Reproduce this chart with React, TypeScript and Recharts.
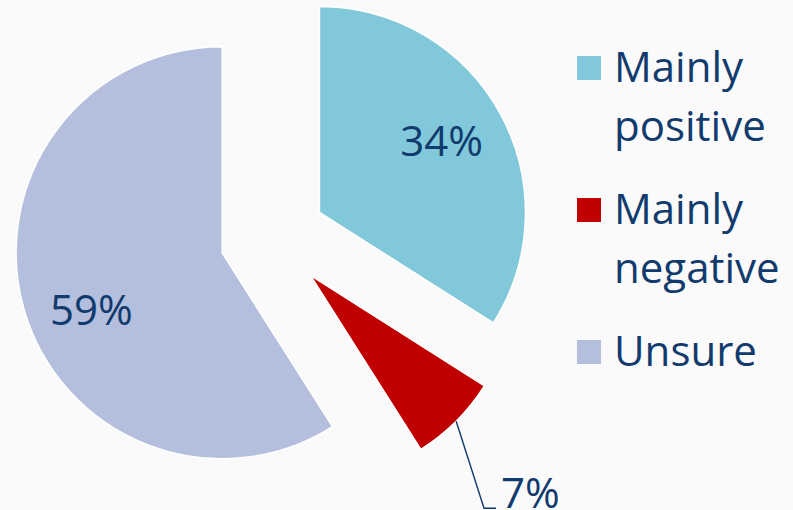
import React from 'react';
import { PieChart, Pie, Cell, Legend } from 'recharts';

// ---- data ----
const categories = ['Mainly positive', 'Mainly negative', 'Unsure'];
const shares = [34, 7, 59];
const colors = ['#80C8DA', '#C00000', '#B4BEDD'];

const data = categories.map((name, i) => ({ name, value: shares[i] }));

// ---- layout / style ----
const W = 793;
const H = 510;
const CX = 273;
const CY = 238;
const R = 206;
const EXPLODE = 53;
const START = 90;
const FONT = '"Open Sans", sans-serif';
const TEXT = '#123B6D';
const BG = '#FAFAFB';
const RAD = Math.PI / 180;
const LABEL_RADIUS = [0.69, 0, 0.69];
const LABEL_ANGLE_SHIFT = [2, 0, 7];

const total = shares.reduce((a, b) => a + b, 0);
const midAngles = shares.map((v, i) => {
  const before = shares.slice(0, i).reduce((a, b) => a + b, 0);
  return START - (360 * (before + v / 2)) / total;
});

const polar = (cx: number, cy: number, r: number, angle: number) => ({
  x: cx + Math.cos(-angle * RAD) * r,
  y: cy + Math.sin(-angle * RAD) * r,
});

const isSlice = (props: any, k: number) => {
  const name = props.name ?? (props.payload && props.payload.name);
  if (name !== undefined) return name === categories[k];
  return props.index === k;
};

const makeLabel = (k: number) => (props: any) => {
  if (!isSlice(props, k)) return null;
  const { cx, cy, midAngle, outerRadius, value } = props;
  if (k === 1) {
    const elbow = polar(cx, cy, outerRadius * 1.41, midAngle - 8.3);
    return (
      <text
        x={elbow.x + 17}
        y={elbow.y}
        fill={TEXT}
        fontFamily={FONT}
        fontSize={42}
        textAnchor="start"
      >
        {`${value}%`}
      </text>
    );
  }
  const p = polar(cx, cy, outerRadius * LABEL_RADIUS[k], midAngle + LABEL_ANGLE_SHIFT[k]);
  return (
    <text
      x={p.x}
      y={p.y}
      fill={TEXT}
      fontFamily={FONT}
      fontSize={42}
      textAnchor="middle"
      dominantBaseline="central"
    >
      {`${value}%`}
    </text>
  );
};

const makeLine = (k: number) => (props: any) => {
  if (!isSlice(props, k)) return null;
  const { cx, cy, midAngle, outerRadius } = props;
  const s = polar(cx, cy, outerRadius, midAngle);
  const e = polar(cx, cy, outerRadius * 1.41, midAngle - 8.3);
  return (
    <path
      d={`M${s.x},${s.y}L${e.x},${e.y}L${e.x + 12},${e.y}`}
      stroke={TEXT}
      strokeWidth={1.5}
      fill="none"
    />
  );
};

const renderLegend = () => (
  <div
    style={{
      display: 'flex',
      flexDirection: 'column',
      gap: 24,
      fontFamily: FONT,
      fontSize: 42,
      lineHeight: '59px',
      color: TEXT,
    }}
  >
    {categories.map((c, i) => (
      <div key={c} style={{ display: 'flex', alignItems: 'flex-start' }}>
        <div
          style={{
            width: 24,
            height: 24,
            background: colors[i],
            marginTop: 20,
            marginRight: 13,
            flex: 'none',
          }}
        />
        <div style={{ width: 178 }}>{c}</div>
      </div>
    ))}
  </div>
);

export default function App() {
  return (
    <div style={{ position: 'absolute', left: 0, top: 0, width: W, height: H, background: BG }}>
      <PieChart width={W} height={H} margin={{ top: 0, right: 0, bottom: 0, left: 0 }}>
        {shares.map((_, k) => {
          const c = polar(CX, CY, EXPLODE, midAngles[k]);
          return (
            <Pie
              key={k}
              data={data}
              dataKey="value"
              nameKey="name"
              cx={c.x}
              cy={c.y}
              outerRadius={R}
              innerRadius={0}
              startAngle={START}
              endAngle={START - 360}
              isAnimationActive={false}
              legendType="none"
              label={makeLabel(k)}
              labelLine={k === 1 ? makeLine(k) : false}
            >
              {data.map((d, i) => (
                <Cell
                  key={d.name}
                  fill={i === k ? colors[i] : 'none'}
                  stroke={i === k ? '#ffffff' : 'none'}
                  strokeWidth={1.5}
                />
              ))}
            </Pie>
          );
        })}
        <Legend
          layout="vertical"
          align="right"
          verticalAlign="top"
          content={renderLegend}
          wrapperStyle={{ left: 577, top: 36, width: 216, right: 'auto' }}
        />
      </PieChart>
    </div>
  );
}
